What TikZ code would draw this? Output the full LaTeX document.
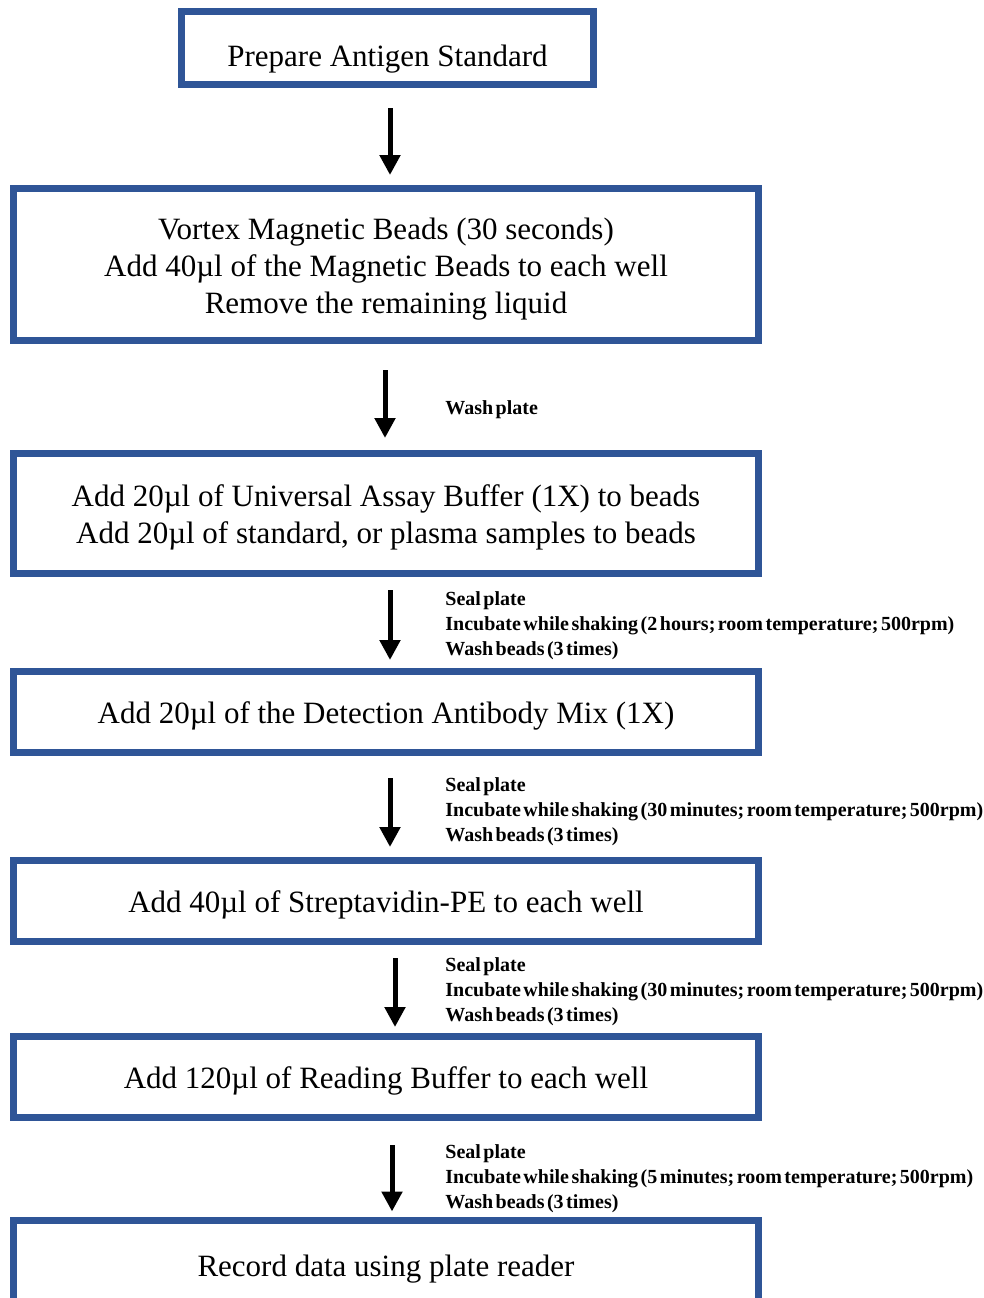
\documentclass[tikz,border=0pt]{standalone}
\usepackage{fontspec}
\setmainfont{Liberation Serif}
\newfontfamily\notefont[WordSpace=0.5]{Liberation Serif}
\usetikzlibrary{arrows.meta}
\definecolor{cframe}{HTML}{2F5597}

\begin{document}
\begin{tikzpicture}[x=0.5pt,y=-0.5pt,>={Triangle[width=10pt,length=10pt]},
  lift/.style={execute at begin node={\rule{0pt}{#1}}},
  box/.style={draw=cframe,line width=3.5pt,align=center,minimum width=372.5pt,
              minimum height=40.5pt,inner sep=0pt,lift=15pt,
              font=\fontsize{15.5}{18.5}\selectfont},
  note/.style={anchor=west,align=left,inner sep=0pt,
               font=\notefont\bfseries\fontsize{10}{12.5}\selectfont},
  flow/.style={->,line width=2.5pt}]
\useasboundingbox (0,0) rectangle (984,1298);
% steps
\node[box,minimum width=206pt,minimum height=36.5pt,lift=21.5pt] (antigen) at (387.5,48)
  {Prepare Antigen Standard};
\node[box,minimum height=76pt,lift=52pt] (beads) at (386,264.5)
  {Vortex Magnetic Beads (30 seconds)\\Add 40µl of the Magnetic Beads to each well\\Remove the remaining liquid};
\node[box,minimum height=60pt,lift=33.5pt] (buffer) at (386,513.5)
  {Add 20µl of Universal Assay Buffer (1X) to beads\\Add 20µl of standard, or plasma samples to beads};
\node[box] (detect) at (386,712) {Add 20µl of the Detection Antibody Mix (1X)};
\node[box] (strep) at (386,901) {Add 40µl of Streptavidin-PE to each well};
\node[box] (reading) at (386,1077) {Add 120µl of Reading Buffer to each well};
\node[box,minimum height=45pt] (record) at (386,1265) {Record data using plate reader};
% arrows
\draw[flow,shorten <=10pt,shorten >=5pt] ([xshift=1.25pt]antigen.south) -- ([xshift=2pt]beads.north);
\draw[flow,shorten <=13pt,shorten >=6pt] ([xshift=-0.5pt]beads.south) -- ([xshift=-0.5pt]buffer.north);
\draw[flow,shorten <=6.5pt,shorten >=4pt] ([xshift=2pt]buffer.south) -- ([xshift=2pt]detect.north);
\draw[flow,shorten <=11pt,shorten >=5pt] ([xshift=2pt]detect.south) -- ([xshift=2pt]strep.north);
\draw[flow,shorten <=6.5pt,shorten >=3pt] ([xshift=4.5pt]strep.south) -- ([xshift=4.5pt]reading.north);
\draw[flow,shorten <=12pt,shorten >=2.5pt] ([xshift=3pt]reading.south) -- ([xshift=3pt]record.north);
% side notes
\node[note] (washplate) at (445,410) {Wash plate};
\node[note] (incubA) at (445,626)
  {Seal plate\\Incubate while shaking (2 hours; room temperature; 500rpm)\\Wash beads (3 times)};
\node[note] (incubB) at (445,812)
  {Seal plate\\Incubate while shaking (30 minutes; room temperature; 500rpm)\\Wash beads (3 times)};
\node[note] (incubC) at (445,992)
  {Seal plate\\Incubate while shaking (30 minutes; room temperature; 500rpm)\\Wash beads (3 times)};
\node[note] (incubD) at (445,1179)
  {Seal plate\\Incubate while shaking (5 minutes; room temperature; 500rpm)\\Wash beads (3 times)};
\end{tikzpicture}
\end{document}
